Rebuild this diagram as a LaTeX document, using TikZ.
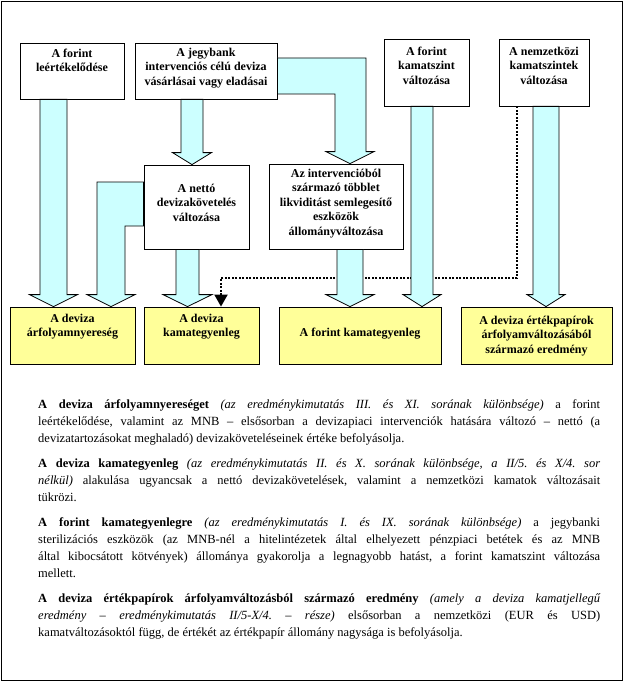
\documentclass[tikz,border=0pt]{standalone}
\usepackage{fontspec}
\setmainfont{Liberation Serif}
\usetikzlibrary{arrows.meta}
\definecolor{acyan}{HTML}{CCFFFF}
\definecolor{eyellow}{HTML}{FFFF99}
\tikzset{
  kbox/.style={draw, line width=0.8pt, fill=white, inner sep=0pt},
  ebox/.style={kbox, fill=eyellow},
  btext/.style={anchor=north, align=center, inner sep=0pt, font=\fontsize{12}{14.5}\selectfont\bfseries},
  blockarrow/.style={draw, line width=0.8pt, fill=acyan},
  dotline/.style={line width=2pt, dash pattern=on 2pt off 1.5pt, -{Triangle[length=12pt,width=13pt]}}
}
\newcommand{\downblock}[5]{%
  \coordinate (hb) at ([yshift=12pt]#2.north);
  \draw[blockarrow] (#3-#4,0 |- #1.south) -- (#3-#4,0 |- hb) -- (#3-#5,0 |- hb)
    -- (#3,0 |- #2.north) -- (#3+#5,0 |- hb) -- (#3+#4,0 |- hb)
    -- (#3+#4,0 |- #1.south) -- cycle;}
\begin{document}
\begin{tikzpicture}[x=1pt,y=-1pt]
\useasboundingbox (0,0) rectangle (624,682);
\draw[line width=0.8pt] (1,1) rectangle (622,680);

\node[kbox, minimum width=104pt, minimum height=56pt, label={[btext, yshift=-6pt]north:A forint\\leértékelődése}] (fle) at (72,71) {};
\node[kbox, minimum width=142pt, minimum height=56pt, label={[btext, yshift=-5pt]north:A jegybank\\intervenciós célú deviza\\vásárlásai vagy eladásai}] (jb) at (206,71) {};
\node[kbox, minimum width=85pt, minimum height=67pt, label={[btext, yshift=-8pt]north:A forint\\kamatszint\\változása}] (fks) at (426.5,72.5) {};
\node[kbox, minimum width=90pt, minimum height=67pt, label={[btext, yshift=-8pt]north:A nemzetközi\\kamatszintek\\változása}] (nks) at (544,72.5) {};
\node[kbox, minimum width=105pt, minimum height=84pt, label={[btext, yshift=-19pt]north:A nettó\\devizakövetelés\\változása}] (nv) at (196.5,207) {};
\node[kbox, minimum width=134pt, minimum height=85pt, label={[btext, yshift=-5pt]north:Az intervencióból\\származó többlet\\likviditást semlegesítő\\eszközök\\állományváltozása}] (ib) at (336,206.5) {};

\node[ebox, minimum width=125pt, minimum height=57pt, label={[btext, yshift=-7pt]north:A deviza\\árfolyamnyereség}] (arn) at (72.5,335.5) {};
\node[ebox, minimum width=115pt, minimum height=57pt, label={[btext, yshift=-7pt]north:A deviza\\kamategyenleg}] (dkg) at (201.5,335.5) {};
\node[ebox, minimum width=162pt, minimum height=57pt, label={[btext, yshift=-21pt]north:A forint kamategyenleg}] (fkg) at (360,335.5) {};
\node[ebox, minimum width=151pt, minimum height=57pt, label={[btext, yshift=-9pt]north:A deviza értékpapírok\\árfolyamváltozásából\\származó eredmény}] (ep) at (536.5,335.5) {};

\draw[dotline] (nks.south -| 517,0) |- (221,278) -- (dkg.north -| 221,0);

\downblock{fle}{arn}{53.5}{13.5}{24}
\downblock{jb}{nv}{192}{11}{19.5}
\downblock{nv}{dkg}{187.5}{11.5}{24.5}
\downblock{ib}{fkg}{350}{13}{24}
\downblock{fks}{fkg}{422}{11}{19}
\downblock{nks}{ep}{546}{13}{19}
\coordinate (hb) at ([yshift=12pt]ib.north);
\draw[blockarrow] (jb.east |- 0,58) -- (366,58) -- (366,0 |- hb) -- (374,0 |- hb) -- (350,0 |- ib.north)
  -- (326,0 |- hb) -- (335,0 |- hb) -- (335,94) -- (jb.east |- 0,94) -- cycle;
\coordinate (hb) at ([yshift=12pt]arn.north);
\draw[blockarrow] (nv.west |- 0,182) -- (97,182) -- (97,0 |- hb) -- (87,0 |- hb) -- (111,0 |- arn.north)
  -- (135,0 |- hb) -- (125,0 |- hb) -- (125,226) -- (nv.west |- 0,226) -- cycle;

\node[anchor=north west, text width=562pt, align=justify, inner sep=0pt, font=\fontsize{12.5}{17}\selectfont] (txt) at (38,399) {%
\setlength{\parindent}{0pt}\setlength{\parskip}{8pt}\frenchspacing
\textbf{A deviza árfolyamnyereséget} \textit{(az eredménykimutatás III. és XI. sorának különbsége)} a forint\linebreak
leértékelődése, valamint az MNB – elsősorban a devizapiaci intervenciók hatására változó – nettó (a\linebreak
devizatartozásokat meghaladó) devizaköveteléseinek értéke befolyásolja.\par
\textbf{A deviza kamategyenleg} \textit{(az eredménykimutatás II. és X. sorának különbsége, a II/5. és X/4. sor\linebreak
nélkül)} alakulása ugyancsak a nettó devizakövetelések, valamint a nemzetközi kamatok változásait\linebreak
tükrözi.\par
\textbf{A forint kamategyenlegre} \textit{(az eredménykimutatás I. és IX. sorának különbsége)} a jegybanki\linebreak
sterilizációs eszközök (az MNB-nél a hitelintézetek által elhelyezett pénzpiaci betétek és az MNB\linebreak
által kibocsátott kötvények) állománya gyakorolja a legnagyobb hatást, a forint kamatszint változása\linebreak
mellett.\par
\textbf{A deviza értékpapírok árfolyamváltozásból származó eredmény} \textit{(amely a deviza kamatjellegű\linebreak
eredmény – eredménykimutatás II/5-X/4. – része)} elsősorban a nemzetközi (EUR és USD)\linebreak
kamatváltozásoktól függ, de értékét az értékpapír állomány nagysága is befolyásolja.};
\end{tikzpicture}
\end{document}
